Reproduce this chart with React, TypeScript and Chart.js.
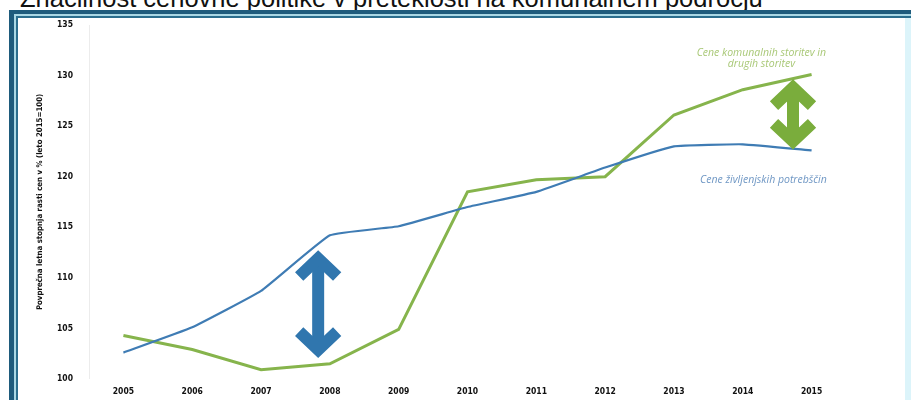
import React, { useEffect, useRef } from "react";
import { Chart, registerables } from "chart.js";

Chart.register(...registerables);

const titleText = "Značilnost cenovne politike v preteklosti na komunalnem področju";
const yAxisTitle = "Povprečna letna stopnja rasti cen v % (leto 2015=100)";
const years = ["2005", "2006", "2007", "2008", "2009", "2010", "2011", "2012", "2013", "2014", "2015"];
const livingCostLabel = "Cene življenjskih potrebščin";
const livingCostValues = [102.6, 105.1, 108.7, 114.2, 115.1, 117.0, 118.5, 120.9, 123.0, 123.2, 122.6];
const utilityLabelLines = ["Cene komunalnih storitev in", "drugih storitev"];
const utilityValues = [104.3, 102.9, 100.9, 101.5, 104.9, 118.5, 119.7, 120.0, 126.1, 128.6, 130.1];
const yMin = 100;
const yMax = 135;
const yStep = 5;

// annotation anchors in data units (category index, value)
const blueArrow = { x: 2.83, top: 112.5, bottom: 102.3 };
const greenArrow = { x: 9.73, top: 129.4, bottom: 122.9 };
const blueTextAnchor = { x: 9.3, y: 119.7 };
const greenTextAnchor = { x: 9.27, y: [132.2, 131.1] };

const BLUE = "#3f7cb4";
const GREEN = "#86b44c";
const BLUE_ARROW = "#3076ae";
const GREEN_ARROW = "#7aad3c";

function drawDoubleArrow(ctx: CanvasRenderingContext2D, cx: number, ty: number, by: number, color: string) {
  const wing = 19;
  const head = 24;
  ctx.save();
  ctx.strokeStyle = color;
  ctx.lineWidth = 12;
  ctx.lineJoin = "miter";
  ctx.lineCap = "butt";
  ctx.beginPath();
  ctx.moveTo(cx, ty + 6);
  ctx.lineTo(cx, by - 6);
  ctx.stroke();
  ctx.beginPath();
  ctx.moveTo(cx - wing, ty + head);
  ctx.lineTo(cx, ty + 6);
  ctx.lineTo(cx + wing, ty + head);
  ctx.stroke();
  ctx.beginPath();
  ctx.moveTo(cx - wing, by - head);
  ctx.lineTo(cx, by - 6);
  ctx.lineTo(cx + wing, by - head);
  ctx.stroke();
  ctx.restore();
}

const annotationPlugin = {
  id: "annotations",
  afterDatasetsDraw(chart: any) {
    const { ctx, scales } = chart;
    const xs = scales.x;
    const ys = scales.y;
    drawDoubleArrow(ctx, xs.getPixelForValue(blueArrow.x), ys.getPixelForValue(blueArrow.top), ys.getPixelForValue(blueArrow.bottom), BLUE_ARROW);
    drawDoubleArrow(ctx, xs.getPixelForValue(greenArrow.x), ys.getPixelForValue(greenArrow.top), ys.getPixelForValue(greenArrow.bottom), GREEN_ARROW);
    ctx.save();
    ctx.font = "italic 10.5px 'Open Sans'";
    ctx.textAlign = "center";
    ctx.textBaseline = "middle";
    ctx.fillStyle = "#6f97c4";
    ctx.fillText(livingCostLabel, xs.getPixelForValue(blueTextAnchor.x), ys.getPixelForValue(blueTextAnchor.y));
    ctx.fillStyle = "#a9c877";
    utilityLabelLines.forEach((t, i) => {
      ctx.fillText(t, xs.getPixelForValue(greenTextAnchor.x), ys.getPixelForValue(greenTextAnchor.y[i]));
    });
    ctx.restore();
  },
};

const tickFont = { family: "'DejaVu Sans Condensed', 'DejaVu Sans'", size: 8.5, weight: "bold" as const };

export default function App() {
  const ref = useRef<HTMLCanvasElement>(null);
  useEffect(() => {
    if (!ref.current) return;
    const chart = new Chart(ref.current, {
      type: "line",
      data: {
        labels: years,
        datasets: [
          {
            label: livingCostLabel,
            data: livingCostValues,
            borderColor: BLUE,
            borderWidth: 2.2,
            pointRadius: 0,
            tension: 0.1,
          },
          {
            label: utilityLabelLines.join(" "),
            data: utilityValues,
            borderColor: GREEN,
            borderWidth: 3,
            pointRadius: 0,
            tension: 0,
          },
        ],
      },
      options: {
        animation: false,
        responsive: false,
        devicePixelRatio: 1,
        layout: { padding: { left: 35, right: 65, top: 25, bottom: 0 } },
        plugins: { legend: { display: false }, tooltip: { enabled: false } },
        scales: {
          x: {
            type: "category",
            offset: true,
            grid: { display: false, drawTicks: false },
            border: { display: false },
            ticks: {
              padding: 8,
              color: "#111",
              font: tickFont,
              maxRotation: 0,
              autoSkip: false,
            },
            afterFit(scale: any) {
              scale.height = 20;
            },
          },
          y: {
            min: yMin,
            max: yMax,
            grid: { display: false, drawTicks: false },
            border: { display: true, color: "#ececec", dash: [4, 4] },
            ticks: {
              stepSize: yStep,
              padding: 16,
              color: "#111",
              font: tickFont,
            },
            title: {
              display: true,
              text: yAxisTitle,
              color: "#111",
              padding: { top: 0, bottom: 0 },
              font: { family: "'DejaVu Sans Condensed', 'DejaVu Sans'", size: 7.8, weight: "bold" },
            },
            afterFit(scale: any) {
              scale.width = 54;
            },
          },
        },
      },
      plugins: [annotationPlugin],
    });
    return () => chart.destroy();
  }, []);

  return (
    <div style={{ position: "fixed", left: 0, top: 0, width: 911, height: 400, background: "#fff", overflow: "hidden" }}>
      <div
        style={{
          position: "absolute",
          left: 20,
          top: -14,
          font: "25.5px 'Liberation Sans', Arial, sans-serif",
          lineHeight: "24px",
          color: "#111",
          whiteSpace: "nowrap",
        }}
      >
        {titleText}
      </div>
      {/* frame */}
      <div style={{ position: "absolute", left: 9, top: 10, width: 902, height: 4, background: "#1e5b7c" }} />
      <div style={{ position: "absolute", left: 14, top: 14, width: 897, height: 2, background: "#a9d7e4" }} />
      <div style={{ position: "absolute", left: 16, top: 16, width: 895, height: 2, background: "#2a6d8d" }} />
      <div style={{ position: "absolute", left: 9, top: 10, width: 5, height: 390, background: "#1e5b7c" }} />
      <div style={{ position: "absolute", left: 14, top: 14, width: 2, height: 386, background: "#a9d7e4" }} />
      <div style={{ position: "absolute", left: 16, top: 16, width: 2, height: 384, background: "#2a6d8d" }} />
      <div style={{ position: "absolute", left: 905, top: 18, width: 6, height: 382, background: "#dcf4fa" }} />
      <canvas ref={ref} width={911} height={400} style={{ position: "absolute", left: 0, top: 0 }} />
    </div>
  );
}
